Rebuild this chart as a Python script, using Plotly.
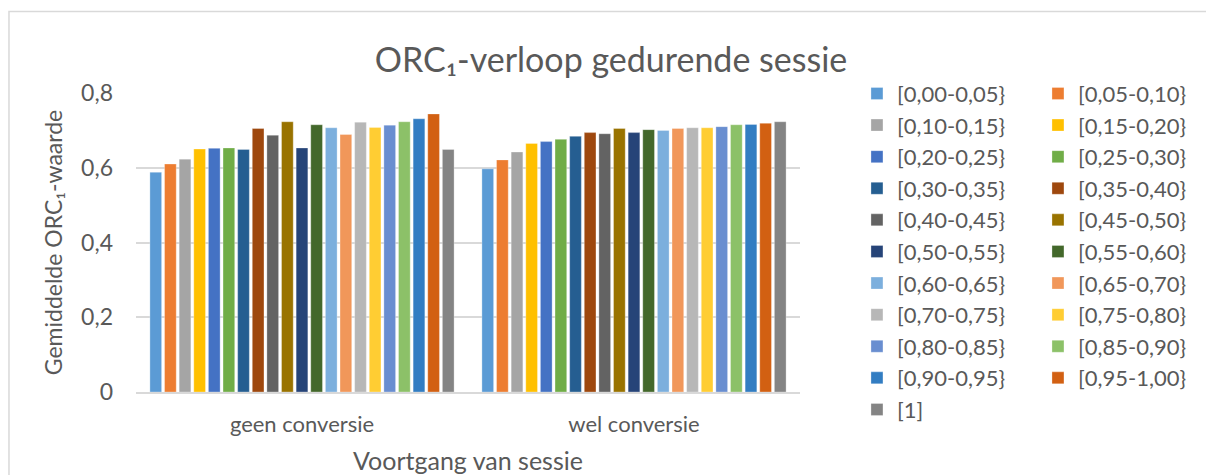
import plotly.graph_objects as go

categories = ["geen conversie", "wel conversie"]
series_names = ["[0,00-0,05}", "[0,05-0,10}", "[0,10-0,15}", "[0,15-0,20}", "[0,20-0,25}",
                "[0,25-0,30}", "[0,30-0,35}", "[0,35-0,40}", "[0,40-0,45}", "[0,45-0,50}",
                "[0,50-0,55}", "[0,55-0,60}", "[0,60-0,65}", "[0,65-0,70}", "[0,70-0,75}",
                "[0,75-0,80}", "[0,80-0,85}", "[0,85-0,90}", "[0,90-0,95}", "[0,95-1,00}", "[1]"]
geen_conversie = [0.588, 0.610, 0.623, 0.650, 0.652, 0.653, 0.649, 0.705, 0.687, 0.723, 0.653,
                  0.715, 0.707, 0.689, 0.722, 0.708, 0.714, 0.723, 0.731, 0.744, 0.649]
wel_conversie = [0.597, 0.621, 0.642, 0.665, 0.670, 0.676, 0.684, 0.694, 0.691, 0.705, 0.694,
                 0.702, 0.700, 0.705, 0.707, 0.707, 0.710, 0.715, 0.716, 0.719, 0.723]
colors = ["#5B9BD5", "#ED7D31", "#A5A5A5", "#FFC000", "#4472C4", "#70AD47", "#255E91",
          "#9E480E", "#636363", "#997300", "#264478", "#43682B", "#7CAFDD", "#F1975A",
          "#B7B7B7", "#FFCD33", "#698ED0", "#8CC168", "#327DC2", "#D26012", "#848484"]
y_ticks = [0, 0.2, 0.4, 0.6, 0.8]

FONT = "Lato, Carlito, Calibri, sans-serif"
GRAY = "#595959"

fig = go.Figure()
for i, name in enumerate(series_names):
    fig.add_trace(go.Bar(
        x=categories,
        y=[geen_conversie[i], wel_conversie[i]],
        name=name,
        marker=dict(color=colors[i], line=dict(color="rgba(255,255,255,0.6)", width=0.5)),
        legend="legend" if i % 2 == 0 else "legend2",
    ))

legend_common = dict(
    font=dict(family=FONT, size=22, color=GRAY),
    bgcolor="rgba(0,0,0,0)",
    orientation="v",
    yanchor="top",
    y=1.068,
    xanchor="left",
    traceorder="normal",
    maxheight=460,
)

fig.update_layout(
    width=1206, height=467,
    margin=dict(l=128, r=414, t=85, b=83),
    paper_bgcolor="white", plot_bgcolor="white",
    separators=",.",
    barmode="group", bargap=0.075, bargroupgap=0.2,
    font=dict(family=FONT, color=GRAY),
    title=dict(text="ORC₁-verloop gedurende sessie", x=0.5, xanchor="center",
               y=0.889, yanchor="middle",
               font=dict(family=FONT, size=34, color=GRAY)),
    legend=dict(x=1.0858, **legend_common),
    legend2=dict(x=1.3584, **legend_common),
    showlegend=True,
    xaxis=dict(
        automargin=False,
        showgrid=False, showline=True, linecolor="#d9d9d9", linewidth=1.5,
        ticks="", ticklabelstandoff=12, tickfont=dict(family=FONT, size=22, color=GRAY),
        title=dict(text="Voortgang van sessie", font=dict(family=FONT, size=25, color=GRAY),
                   standoff=21),
    ),
    yaxis=dict(
        automargin=False,
        range=[0, 0.8], tickvals=y_ticks,
        showgrid=True, gridcolor="#d9d9d9", gridwidth=1.5, zeroline=False,
        ticks="", ticklabelstandoff=22, tickfont=dict(family=FONT, size=23, color=GRAY),
        title=dict(text="Gemiddelde ORC₁-waarde", font=dict(family=FONT, size=23, color=GRAY),
                   standoff=12),
    ),
    shapes=[dict(type="rect", xref="paper", yref="paper",
                 x0=-0.1913, x1=1.6175, y0=-0.6, y1=1.2727,
                 line=dict(color="#d9d9d9", width=1.5), fillcolor="rgba(0,0,0,0)", layer="below")],
)

fig.write_html("out.html")
